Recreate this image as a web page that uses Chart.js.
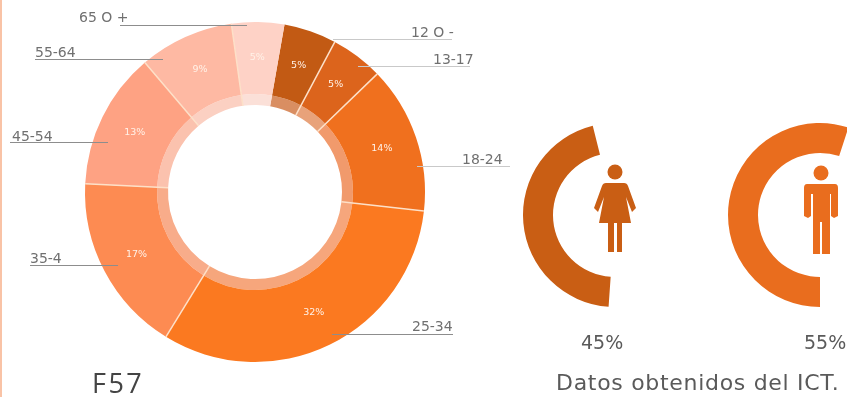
<!DOCTYPE html>
<html lang="es">
<head>
<meta charset="utf-8">
<title>Edades y género</title>
<script src="https://cdn.jsdelivr.net/npm/chart.js@4/dist/chart.umd.js"></script>
<style>
  html, body { margin: 0; padding: 0; background: #fff; overflow: hidden; }
  #page { position: relative; width: 847px; height: 397px; overflow: hidden; }
  #page canvas, #page svg { position: absolute; left: 0; top: 0; }
  #edge { position: absolute; left: 0; top: 0; width: 2px; height: 397px; background: #f9c3a6; }
  .caption { position: absolute; font-family: "DejaVu Sans", sans-serif; color: #5a5a5a; white-space: nowrap; }
</style>
</head>
<body>
<div id="page">
  <canvas id="ages" width="847" height="397"></canvas>
  <canvas id="female" width="200" height="200" style="left:515px;top:115px"></canvas>
  <canvas id="male" width="200" height="200" style="left:720px;top:115px"></canvas>
  <svg width="847" height="397" viewBox="0 0 847 397">
    <g fill="#c95e14">
      <circle cx="615" cy="172" r="7.5"/>
      <path d="M606 183 H624 Q627 183 628 186 L636 208 L632 212 L626 197 L631 223 H622 V252 H617 V223 H614 V252 H608 V223 H599 L604 197 L598 212 L594 208 L602 186 Q603 183 606 183 Z"/>
    </g>
    <g fill="#e96d1e">
      <circle cx="821" cy="173" r="7.5"/>
      <path d="M807 184 H835 Q838 184 838 188 V216 L834 218 L831 216 V194 H830 V254 H822 V222 H820 V254 H813 V194 H811 V216 L808 218 L804 216 V188 Q804 184 807 184 Z"/>
    </g>
  </svg>
  <div id="edge"></div>
  <div class="caption" style="left:581px;top:331px;font-size:19px">45%</div>
  <div class="caption" style="left:804px;top:331px;font-size:19px">55%</div>
  <div class="caption" style="left:556px;top:370px;font-size:22px;letter-spacing:0.7px">Datos obtenidos del ICT.</div>
  <div class="caption" style="left:92px;top:364px;font-size:27px;font-family:'Open Sans',sans-serif;color:#444;letter-spacing:2.5px">F57</div>
</div>
<script>
// Reparto por edades, empezando en el grupo más joven
const ageGroups = ["12 O -", "13-17", "18-24", "25-34", "35-4", "45-54", "55-64", "65 O +"];
const agePercents = [5, 5, 14, 32, 17, 13, 9, 5];
const ageColors = ["#c25a14", "#dc641c", "#f0701e", "#fb7920", "#fd8b52", "#fea283", "#feb9a3", "#fed2c6"];
const ringColors = ["#d98e62", "#e8a27a", "#f19a6c", "#f6a67c", "#f8ac8a", "#fbc2ae", "#fbd0c2", "#fbe0d8"];

const genderLabels = ["Mujeres", "Hombres"];
const genderPercents = [45, 55];

// Líneas guía: punto dentro del sector, extremo exterior y altura del texto
const leaders = [
  { x1: 333, x2: 452, y: 39, color: "#c9c9c9", textX: 411, textY: 33 },
  { x1: 358, x2: 470, y: 66, color: "#c9c9c9", textX: 433, textY: 60 },
  { x1: 417, x2: 510, y: 166, color: "#c9c9c9", textX: 462, textY: 160 },
  { x1: 332, x2: 453, y: 334, color: "#8d8d8d", textX: 412, textY: 327 },
  { x1: 118, x2: 30, y: 265, color: "#8d8d8d", textX: 30, textY: 259 },
  { x1: 108, x2: 10, y: 142, color: "#8d8d8d", textX: 12, textY: 137 },
  { x1: 163, x2: 35, y: 59, color: "#8d8d8d", textX: 35, textY: 53 },
  { x1: 247, x2: 120, y: 25, color: "#8d8d8d", textX: 79, textY: 18 },
];

const ageLabelsPlugin = {
  id: "ageLabels",
  afterDatasetsDraw(chart) {
    const ctx = chart.ctx;
    const outer = chart.getDatasetMeta(0).data;
    const ring = chart.getDatasetMeta(1).data;
    ctx.save();

    // separadores claros entre sectores; 65 O + y 12 O - van sin línea
    ctx.strokeStyle = "#fde0c8";
    ctx.lineWidth = 1.5;
    outer.forEach((arc, i) => {
      if (i === 0) return;
      const a = arc.startAngle;
      const r0 = ring[i].innerRadius;
      const r1 = arc.outerRadius;
      ctx.beginPath();
      ctx.moveTo(arc.x + Math.cos(a) * r0, arc.y + Math.sin(a) * r0);
      ctx.lineTo(arc.x + Math.cos(a) * r1, arc.y + Math.sin(a) * r1);
      ctx.stroke();
    });

    // porcentaje en el centro de cada sector
    ctx.font = "9.5px 'DejaVu Sans', sans-serif";
    ctx.fillStyle = "#fff2e8";
    ctx.textAlign = "center";
    ctx.textBaseline = "middle";
    outer.forEach((arc, i) => {
      const p = arc.getCenterPoint();
      ctx.fillText(agePercents[i] + "%", p.x, p.y);
    });

    // grupos de edad con su línea guía
    ctx.font = "14px 'DejaVu Sans', sans-serif";
    ctx.textAlign = "left";
    ageGroups.forEach((group, i) => {
      const l = leaders[i];
      ctx.strokeStyle = l.color;
      ctx.lineWidth = 1;
      ctx.beginPath();
      ctx.moveTo(l.x1, l.y + 0.5);
      ctx.lineTo(l.x2, l.y + 0.5);
      ctx.stroke();
      ctx.fillStyle = "#707070";
      ctx.fillText(group, l.textX, l.textY);
    });
    ctx.restore();
  },
};

new Chart(document.getElementById("ages"), {
  type: "doughnut",
  data: {
    labels: ageGroups,
    datasets: [
      {
        data: agePercents,
        backgroundColor: ageColors,
        borderWidth: 0,
        weight: 72,
      },
      {
        data: agePercents,
        backgroundColor: ringColors,
        borderWidth: 0,
        weight: 11,
      },
    ],
  },
  options: {
    responsive: false,
    animation: false,
    rotation: 10,
    cutout: 87,
    layout: { padding: { left: 85, right: 422, top: 22, bottom: 35 } },
    plugins: { legend: { display: false }, tooltip: { enabled: false } },
  },
  plugins: [ageLabelsPlugin],
});

// Arco de género: solo se pinta el primer valor, el resto queda transparente
function genderChart(id, shown, color, rotation) {
  new Chart(document.getElementById(id), {
    type: "doughnut",
    data: {
      labels: [genderLabels[shown], "resto"],
      datasets: [
        {
          data: [genderPercents[shown], 100 - genderPercents[shown]],
          backgroundColor: [color, "rgba(0,0,0,0)"],
          borderWidth: 0,
        },
      ],
    },
    options: {
      responsive: false,
      animation: false,
      rotation: rotation,
      cutout: 62,
      layout: { padding: 8 },
      plugins: { legend: { display: false }, tooltip: { enabled: false } },
    },
  });
}

genderChart("female", 0, "#c95e14", 184);
genderChart("male", 1, "#e96d1e", 180);
</script>
</body>
</html>
